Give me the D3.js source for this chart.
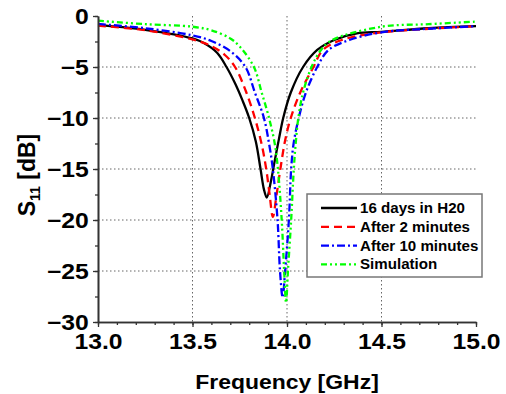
<!DOCTYPE html>
<html>
<head>
<meta charset="utf-8">
<script src="https://cdn.jsdelivr.net/npm/d3@7"></script>
<style>
  body { margin: 0; background: #fff; }
  text { font-family: "Liberation Sans", Arial, Helvetica, sans-serif; font-weight: bold; }
</style>
</head>
<body>
<svg id="chart" width="506" height="394"></svg>
<script>
// --- DATA ---
const seriesNames = ["16 days in H20", "After 2 minutes", "After 10 minutes", "Simulation"];

const freqBlack = [13.00, 13.25, 13.50, 13.56, 13.63, 13.68, 13.725, 13.765, 13.80, 13.835, 13.86, 13.878, 13.893, 13.915, 13.935, 13.958, 13.98, 14.02, 14.085, 14.16, 14.25, 14.37, 14.50, 14.75, 15.00];
const s11Black  = [-0.9, -1.35, -2.2, -2.65, -3.6, -5.0, -6.6, -8.3, -10.0, -12.3, -15.0, -17.0, -17.8, -16.2, -14.2, -12.0, -10.0, -7.5, -5.0, -3.33, -2.35, -1.7, -1.55, -1.2, -1.0];

const freqRed = [13.00, 13.25, 13.50, 13.60, 13.67, 13.725, 13.785, 13.83, 13.865, 13.89, 13.908, 13.925, 13.945, 13.965, 13.99, 14.02, 14.07, 14.14, 14.19, 14.29, 14.50, 14.75, 15.00];
const s11Red  = [-0.95, -1.4, -2.3, -2.95, -3.8, -5.0, -7.5, -10.0, -12.5, -15.0, -17.5, -19.7, -17.5, -15.0, -12.2, -10.0, -7.5, -5.0, -3.33, -2.35, -1.6, -1.25, -1.0];

const freqBlue = [13.00, 13.25, 13.50, 13.60, 13.70, 13.78, 13.83, 13.878, 13.905, 13.925, 13.95, 13.963, 13.977, 13.99, 14.01, 14.022, 14.035, 14.062, 14.10, 14.16, 14.22, 14.33, 14.50, 14.75, 15.00];
const s11Blue  = [-0.78, -1.2, -1.9, -2.45, -3.45, -5.0, -7.5, -10.0, -12.5, -15.0, -20.0, -25.0, -27.6, -25.0, -20.0, -15.0, -12.5, -10.0, -7.5, -5.0, -3.33, -2.35, -1.6, -1.25, -1.0];

const freqGreen = [13.00, 13.25, 13.50, 13.60, 13.70, 13.75, 13.825, 13.866, 13.905, 13.935, 13.952, 13.972, 13.985, 13.995, 14.005, 14.022, 14.036, 14.046, 14.06, 14.085, 14.13, 14.18, 14.24, 14.50, 14.75, 15.00];
const s11Green  = [-0.46, -0.8, -1.05, -1.4, -2.2, -3.0, -5.0, -7.5, -10.0, -12.5, -15.0, -20.0, -25.0, -28.1, -25.0, -20.0, -15.0, -12.5, -10.0, -7.5, -5.0, -3.33, -2.35, -1.05, -0.8, -0.55];

const xTicks = [13.0, 13.5, 14.0, 14.5, 15.0];
const yTicks = [0, -5, -10, -15, -20, -25, -30];

// --- LAYOUT / STYLE ---
const X0 = 98, X1 = 476, Y0 = 16, Y1 = 322;
const STYLES = [
  { color: "#000000", dash: null },
  { color: "#ff0000", dash: "8,5" },
  { color: "#0000ff", dash: "8,3,2,3" },
  { color: "#00ff00", dash: "6,3,2,3,2,3" }
];

const svg = d3.select("#chart");

const x = d3.scaleLinear().domain([13, 15]).range([X0, X1]);
const y = d3.scaleLinear().domain([-30, 0]).range([Y1, Y0]);

// grid
const grid = svg.append("g").attr("stroke", "#666").attr("stroke-width", 1).attr("stroke-dasharray", "1.5,2.5");
grid.selectAll("line.gx").data(xTicks.slice(1, -1)).join("line")
  .attr("x1", d => x(d)).attr("x2", d => x(d)).attr("y1", Y0).attr("y2", Y1);
grid.selectAll("line.gy").data(yTicks.slice(1, -1)).join("line")
  .attr("y1", d => y(d)).attr("y2", d => y(d)).attr("x1", X0).attr("x2", X1);

// curves
const data = [
  [freqBlack, s11Black], [freqRed, s11Red], [freqBlue, s11Blue], [freqGreen, s11Green]
].map(([f, v], i) => ({ name: seriesNames[i], pts: f.map((fr, j) => [fr, v[j]]), style: STYLES[i] }));

const line = d3.line().x(d => x(d[0])).y(d => y(d[1])).curve(d3.curveCatmullRom.alpha(0.5));

svg.append("g").selectAll("path").data(data).join("path")
  .attr("d", d => line(d.pts))
  .attr("fill", "none")
  .attr("stroke", d => d.style.color)
  .attr("stroke-width", 2.3)
  .attr("stroke-dasharray", d => d.style.dash);

// axes
function styleAxis(g) {
  g.select(".domain").attr("stroke", "#333").attr("stroke-width", 1.6).attr("fill", "none");
  g.selectAll(".tick line").attr("stroke", "#333").attr("stroke-width", 1.3);
}

const minorX = d3.range(13, 15.0001, 0.1);
const minorY = d3.range(-30, 0.0001, 2.5);

svg.append("g").attr("transform", `translate(0,${Y1})`)
  .call(d3.axisBottom(x).tickValues(minorX).tickSize(3).tickFormat("").tickSizeOuter(0))
  .call(styleAxis);
svg.append("g").attr("transform", `translate(${X0},0)`)
  .call(d3.axisLeft(y).tickValues(minorY).tickSize(3).tickFormat("").tickSizeOuter(0))
  .call(styleAxis);

const gx = svg.append("g").attr("transform", `translate(0,${Y1})`)
  .call(d3.axisBottom(x).tickValues(xTicks).tickSize(5).tickSizeOuter(0).tickFormat(d3.format(".1f")))
  .call(styleAxis);
gx.selectAll(".tick text")
  .attr("y", 12).attr("dy", "0.71em")
  .attr("fill", "#000").attr("font-size", 21.5)
  .attr("transform", "scale(1.15,1)");

const gy = svg.append("g").attr("transform", `translate(${X0},0)`)
  .call(d3.axisLeft(y).tickValues(yTicks).tickSize(5).tickSizeOuter(0).tickFormat(d3.format("d")))
  .call(styleAxis);
gy.selectAll(".tick text")
  .attr("x", -8).attr("dy", "0.36em")
  .attr("fill", "#000").attr("font-size", 21.5)
  .attr("transform", "scale(1.15,1)");
svg.selectAll("g").attr("font-family", null);

// axis titles
svg.append("text")
  .attr("transform", `translate(${(X0 + X1) / 2},389) scale(1.12,1)`)
  .attr("text-anchor", "middle").attr("font-size", 20.5).attr("fill", "#000")
  .text("Frequency [GHz]");

const yt = svg.append("text")
  .attr("transform", `translate(35,175) rotate(-90)`)
  .attr("text-anchor", "middle").attr("font-size", 23).attr("fill", "#000");
yt.append("tspan").text("S");
yt.append("tspan").attr("font-size", 14).attr("dy", 5).text("11");
yt.append("tspan").attr("dy", -5).text(" [dB]");

// legend
const LX = 307, LY = 194, LW = 175, LH = 83;
const leg = svg.append("g");
leg.append("rect").attr("x", LX).attr("y", LY).attr("width", LW).attr("height", LH)
  .attr("fill", "#fff").attr("stroke", "#777").attr("stroke-width", 1.5);
const rows = leg.selectAll("g.row").data(data).join("g")
  .attr("transform", (d, i) => `translate(0,${208 + i * 18.8})`);
rows.append("line").attr("x1", 321).attr("x2", 357).attr("y1", 0).attr("y2", 0)
  .attr("stroke", d => d.style.color).attr("stroke-width", 2.3)
  .attr("stroke-dasharray", d => d.style.dash);
rows.append("text").attr("transform", "translate(360,5) scale(1.05,1)").attr("font-size", 14.4).attr("fill", "#000")
  .text(d => d.name);
</script>
</body>
</html>
